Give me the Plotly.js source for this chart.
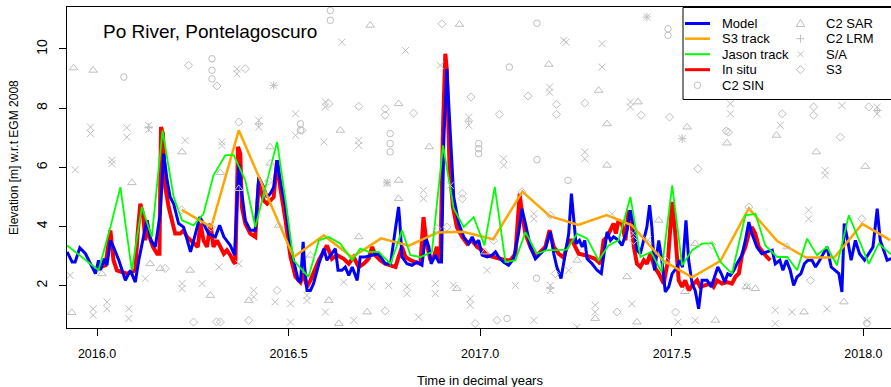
<!DOCTYPE html>
<html><head><meta charset="utf-8">
<script src="https://cdn.plot.ly/plotly-3.0.1.min.js"></script>
<style>html,body{margin:0;padding:0;overflow:hidden;background:#fff;width:891px;height:387px}#chart{width:900px;height:387px}</style>
</head><body><div id="chart"></div><script>
// ---------- data ----------
const modelX = [2015.922,2015.935,2015.943,2015.955,2015.970,2015.983,2015.996,2016.004,2016.009,2016.019,2016.026,2016.035,2016.043,2016.057,2016.074,2016.087,2016.100,2016.109,2016.123,2016.130,2016.141,2016.152,2016.165,2016.174,2016.183,2016.191,2016.200,2016.213,2016.226,2016.244,2016.257,2016.268,2016.278,2016.291,2016.309,2016.320,2016.331,2016.348,2016.359,2016.365,2016.370,2016.378,2016.387,2016.400,2016.413,2016.422,2016.435,2016.444,2016.452,2016.461,2016.470,2016.478,2016.492,2016.505,2016.513,2016.525,2016.531,2016.538,2016.542,2016.548,2016.557,2016.565,2016.579,2016.592,2016.600,2016.613,2016.622,2016.629,2016.639,2016.648,2016.657,2016.666,2016.679,2016.687,2016.700,2016.718,2016.735,2016.752,2016.766,2016.777,2016.787,2016.790,2016.796,2016.809,2016.822,2016.835,2016.848,2016.857,2016.866,2016.872,2016.883,2016.892,2016.899,2016.905,2016.913,2016.922,2016.931,2016.944,2016.957,2016.970,2016.979,2016.987,2016.996,2017.005,2017.018,2017.031,2017.040,2017.048,2017.061,2017.074,2017.087,2017.100,2017.109,2017.118,2017.131,2017.144,2017.157,2017.170,2017.183,2017.192,2017.200,2017.211,2017.221,2017.231,2017.238,2017.244,2017.250,2017.259,2017.266,2017.273,2017.279,2017.292,2017.305,2017.316,2017.322,2017.331,2017.340,2017.348,2017.361,2017.370,2017.383,2017.392,2017.401,2017.409,2017.418,2017.427,2017.435,2017.442,2017.448,2017.455,2017.466,2017.474,2017.483,2017.492,2017.501,2017.514,2017.520,2017.528,2017.537,2017.544,2017.553,2017.561,2017.570,2017.579,2017.592,2017.603,2017.612,2017.620,2017.629,2017.638,2017.646,2017.653,2017.662,2017.670,2017.683,2017.692,2017.701,2017.709,2017.722,2017.735,2017.748,2017.762,2017.770,2017.782,2017.790,2017.799,2017.809,2017.818,2017.827,2017.837,2017.846,2017.855,2017.866,2017.875,2017.886,2017.896,2017.905,2017.916,2017.927,2017.936,2017.944,2017.950,2017.959,2017.968,2017.979,2017.990,2018.003,2018.014,2018.025,2018.036,2018.044,2018.053,2018.062,2018.072,2018.080];
const modelY = [3.14,2.80,2.80,3.28,3.08,2.74,2.41,2.86,2.52,2.91,2.69,3.53,3.31,2.86,2.18,2.52,2.12,2.86,3.76,4.21,3.53,3.31,4.43,6.46,5.56,4.99,4.77,4.10,3.98,3.14,3.76,4.32,4.10,3.76,3.65,4.04,3.65,3.36,3.03,4.66,6.12,5.11,4.21,3.87,3.87,5.67,5.33,4.99,5.11,5.33,6.24,5.56,4.66,3.31,2.86,2.18,2.12,3.48,2.63,1.84,1.84,2.07,2.74,3.25,2.86,3.08,3.25,2.52,2.52,2.63,2.35,2.63,2.18,2.97,2.97,3.03,3.08,2.74,2.74,3.76,4.66,4.21,2.97,2.74,2.69,2.80,2.69,3.65,3.31,2.74,3.03,2.80,2.80,6.91,9.33,7.14,4.99,4.10,3.65,3.42,3.65,3.42,3.53,3.03,2.97,3.03,3.14,2.97,2.80,2.69,2.91,3.76,4.60,4.10,3.31,2.91,3.08,3.25,3.82,3.08,2.63,2.24,3.00,3.76,5.11,4.21,3.42,3.53,3.31,3.53,2.91,2.74,2.52,2.41,2.97,3.82,3.53,3.65,3.53,3.36,3.87,4.55,3.98,3.20,3.08,3.53,3.98,4.72,3.98,2.52,3.53,2.86,1.79,1.96,2.41,2.63,2.86,2.63,4.21,2.86,2.07,1.84,1.22,2.18,2.18,1.96,2.30,2.63,2.41,2.12,2.40,2.35,2.52,2.74,3.03,3.53,4.15,3.76,3.31,3.08,3.14,3.20,2.74,2.86,2.52,2.86,2.52,2.01,2.30,2.41,2.74,2.86,2.86,2.63,2.86,3.08,3.31,2.63,2.52,2.41,1.79,4.10,3.53,2.86,3.53,3.08,2.86,3.08,3.31,4.60,3.53,3.20,2.86,2.91,2.90];

const insituX = [2016.009,2016.022,2016.035,2016.043,2016.052,2016.065,2016.078,2016.091,2016.100,2016.106,2016.113,2016.120,2016.126,2016.130,2016.137,2016.146,2016.157,2016.163,2016.167,2016.172,2016.178,2016.187,2016.196,2016.204,2016.217,2016.226,2016.235,2016.244,2016.252,2016.263,2016.270,2016.278,2016.287,2016.296,2016.304,2016.313,2016.322,2016.331,2016.339,2016.348,2016.357,2016.361,2016.368,2016.374,2016.378,2016.387,2016.400,2016.413,2016.422,2016.435,2016.444,2016.452,2016.461,2016.470,2016.478,2016.492,2016.505,2016.518,2016.531,2016.539,2016.548,2016.557,2016.565,2016.579,2016.600,2016.613,2016.626,2016.644,2016.657,2016.670,2016.683,2016.696,2016.709,2016.718,2016.726,2016.739,2016.752,2016.766,2016.779,2016.787,2016.796,2016.805,2016.818,2016.831,2016.844,2016.852,2016.859,2016.870,2016.879,2016.887,2016.896,2016.903,2016.909,2016.913,2016.920,2016.929,2016.939,2016.953,2016.966,2016.979,2016.992,2017.005,2017.018,2017.035,2017.053,2017.066,2017.079,2017.092,2017.103,2017.109,2017.118,2017.131,2017.144,2017.157,2017.170,2017.181,2017.192,2017.205,2017.218,2017.231,2017.240,2017.248,2017.257,2017.274,2017.287,2017.300,2017.314,2017.322,2017.331,2017.340,2017.348,2017.354,2017.361,2017.370,2017.379,2017.387,2017.394,2017.401,2017.409,2017.418,2017.427,2017.435,2017.444,2017.455,2017.466,2017.479,2017.490,2017.501,2017.509,2017.518,2017.527,2017.535,2017.544,2017.557,2017.566,2017.574,2017.588,2017.601,2017.609,2017.618,2017.631,2017.644,2017.657,2017.666,2017.675,2017.683,2017.692,2017.701,2017.709,2017.718,2017.727,2017.740,2017.748,2017.757];
const insituY = [2.63,2.69,3.87,2.86,2.52,2.46,2.41,2.46,2.52,3.76,4.77,4.43,3.53,4.21,3.65,3.31,3.08,3.08,7.36,7.14,5.33,4.66,4.21,3.76,3.76,3.87,3.65,3.53,3.42,3.31,4.10,3.53,3.31,4.10,3.31,3.53,3.31,3.08,3.20,3.03,2.80,2.74,6.69,6.46,4.66,4.10,3.76,3.65,5.45,4.88,4.77,4.88,4.99,6.24,5.33,4.21,2.97,2.30,2.12,2.41,1.96,2.18,2.41,2.86,3.36,2.91,3.03,2.91,2.74,2.97,2.63,2.74,2.91,3.31,3.03,2.86,2.74,2.69,2.63,2.97,3.31,2.97,2.86,2.80,2.74,4.32,3.53,2.86,2.97,3.31,2.86,7.36,9.84,9.28,6.01,4.66,3.98,3.65,3.42,3.53,3.31,3.20,3.03,2.97,2.91,2.86,2.86,3.08,5.11,4.43,3.76,3.31,2.97,3.14,3.31,3.87,3.31,3.08,2.95,3.53,3.53,3.31,3.08,3.03,2.97,2.91,2.74,3.53,3.65,3.87,4.10,3.76,4.21,4.10,3.53,4.55,4.21,3.31,2.74,2.63,2.86,2.74,3.08,2.63,2.41,2.07,2.86,4.83,3.76,2.18,1.96,2.18,1.84,2.07,2.18,1.96,2.01,2.07,1.96,2.18,2.07,2.12,2.07,2.30,2.41,3.03,3.31,3.76,3.98,3.76,3.31,3.08,2.97,2.86];

const s3TrackX = [2016.221,2016.298,2016.370,2016.513,2016.592,2016.666,2016.741,2016.814,2016.889,2016.955,2017.034,2017.110,2017.182,2017.256,2017.330,2017.396,2017.478,2017.553,2017.627,2017.701,2017.775,2017.850,2017.924,2017.997,2018.070];
const s3TrackY = [4.56,3.98,7.25,2.97,3.70,2.96,3.60,3.35,3.80,3.82,3.57,5.18,4.35,4.05,4.39,4.04,2.84,2.28,2.84,4.61,3.51,2.95,2.95,4.09,3.54];

const jasonX = [2015.922,2016.004,2016.035,2016.061,2016.091,2016.117,2016.143,2016.171,2016.200,2016.222,2016.252,2016.278,2016.304,2016.335,2016.357,2016.387,2016.413,2016.444,2016.470,2016.492,2016.513,2016.552,2016.579,2016.605,2016.635,2016.666,2016.687,2016.709,2016.735,2016.766,2016.796,2016.818,2016.844,2016.874,2016.903,2016.931,2016.957,2016.983,2017.011,2017.038,2017.066,2017.092,2017.118,2017.148,2017.174,2017.200,2017.226,2017.253,2017.279,2017.309,2017.335,2017.361,2017.392,2017.418,2017.446,2017.473,2017.501,2017.527,2017.553,2017.579,2017.605,2017.627,2017.657,2017.692,2017.718,2017.744,2017.775,2017.801,2017.827,2017.853,2017.879,2017.905,2017.931,2017.962,2017.988,2018.014,2018.040,2018.070,2018.080];
const jasonY = [3.36,2.52,3.98,5.33,2.52,4.66,3.65,7.25,5.00,4.21,4.04,4.43,5.73,6.41,6.41,5.56,3.98,5.56,6.86,4.88,2.86,2.30,3.53,3.65,3.42,2.86,3.25,3.14,3.14,2.74,3.87,3.03,2.97,3.14,6.74,4.60,3.98,4.32,3.36,5.34,2.80,2.86,3.81,3.08,3.20,3.20,3.22,3.76,3.59,2.86,3.36,3.53,5.00,2.97,3.14,2.46,5.39,2.69,3.20,3.42,3.44,2.80,2.41,4.38,4.43,3.36,2.97,2.97,2.52,3.59,3.03,3.31,2.69,4.38,3.53,2.74,3.42,3.08,3.05];

const c2sinX = [2016.070,2016.300,2016.300,2016.300,2016.609,2016.609,2016.531,2016.531,2016.765,2016.765,2016.765,2017.148,2017.076,2016.996,2016.996,2016.996,2017.148,2017.070,2017.490,2017.490,2017.229,2017.147,2018.009];
const c2sinY = [9.05,9.67,9.28,8.99,11.30,10.97,7.47,7.25,7.14,6.80,6.52,10.87,9.39,6.80,6.63,6.46,6.26,0.89,10.68,10.46,5.56,2.25,0.73];

const c2sarX = [2015.939,2015.990,2016.091,2016.222,2016.322,2016.139,2016.165,2016.243,2016.296,2015.934,2016.013,2016.713,2016.635,2016.787,2016.787,2016.787,2016.452,2016.474,2016.683,2016.557,2016.396,2016.605,2016.705,2016.631,2016.370,2016.946,2017.179,2016.867,2016.939,2017.013,2017.309,2017.412,2017.331,2017.540,2017.644,2017.331,2017.253,2017.383,2017.466,2017.561,2017.300,2017.614,2017.409,2017.773,2017.877,2018.005,2017.718,2017.949,2017.845,2017.801,2017.534,2017.695,2016.452];
const c2sarY = [9.36,9.28,5.48,6.52,5.82,2.74,2.58,2.52,1.67,1.09,2.40,10.80,7.25,8.15,5.56,4.94,6.69,4.04,3.65,3.03,1.50,1.50,1.11,0.72,5.28,10.83,9.48,6.69,1.90,3.14,8.60,8.21,7.47,7.36,6.82,6.07,2.86,2.30,4.21,3.42,0.89,0.83,0.77,7.08,6.52,6.03,1.90,1.45,1.11,3.31,1.80,1.97,6.14];

const c2lrmX = [2016.135,2016.461,2016.757,2016.970,2017.435,2017.527,2018.036,2016.422,2017.183];
const c2lrmY = [7.35,8.77,5.48,7.56,11.08,6.97,7.92,7.47,1.92];

const saX = [2015.983,2015.983,2016.078,2016.078,2016.135,2016.135,2016.039,2016.039,2015.943,2016.230,2016.326,2016.326,2016.126,2016.222,2016.222,2016.274,2016.318,2015.930,2016.026,2016.026,2015.990,2015.990,2016.083,2016.083,
2016.639,2016.365,2016.365,2016.461,2016.596,2016.596,2016.518,2016.422,2016.422,2016.518,2016.592,2016.683,2016.683,2016.757,2016.757,2016.370,2016.409,2016.409,2016.465,2016.505,2016.548,2016.548,2016.644,2016.761,2016.596,2016.505,2016.670,2016.717,
2016.805,2016.896,2017.218,2017.181,2017.181,2016.970,2016.970,2016.852,2016.852,2017.061,2017.061,2017.140,2017.140,2016.809,2016.809,2016.883,2016.883,2016.974,2016.974,2017.018,2017.092,2017.183,2017.183,2017.140,2016.839,2016.922,2016.930,
2017.224,2017.318,2017.318,2017.435,2017.392,2017.392,2017.273,2017.273,2017.527,2017.344,2017.438,2017.231,2017.253,2017.300,2017.300,2017.396,2017.516,2017.561,2017.653,2017.653,2017.399,
2017.783,2017.900,2017.900,2017.857,2017.857,2018.036,2018.036,2017.944,2017.696,2017.770,2017.814,2017.905,2018.010,2017.770];
const saY = [7.36,7.14,7.34,7.02,7.42,7.27,6.24,6.12,5.92,6.91,6.86,6.74,2.24,2.07,1.90,2.07,2.63,2.35,1.45,1.22,1.22,1.00,1.22,0.89,
10.23,9.33,9.16,8.77,8.21,8.04,7.81,7.59,7.36,7.08,6.86,6.91,6.74,5.50,5.45,2.74,1.84,1.62,1.45,1.39,1.67,1.50,2.12,2.01,1.11,0.77,0.83,1.97,
9.95,9.45,10.29,8.71,8.54,7.70,7.42,5.22,4.94,6.29,6.07,4.43,4.26,1.96,1.73,2.07,1.73,1.56,1.34,2.52,2.01,2.01,1.84,0.83,0.94,5.39,2.02,
10.23,10.18,9.39,11.08,8.21,8.04,6.52,6.29,6.97,4.43,3.55,2.52,0.60,1.34,1.11,1.39,0.77,0.83,8.15,7.81,3.77,
7.42,5.90,5.73,4.55,4.26,8.04,7.81,8.09,1.96,1.17,1.11,1.22,0.83,0.72];

const s3ptX = [2016.239,2016.313,2016.178,2016.252,2016.322,2016.221,2016.298,2016.312,
2016.387,2016.370,2016.605,2016.683,2016.752,2016.752,2016.535,2016.470,2016.396,2016.752,2016.448,
2016.900,2016.826,2016.976,2017.050,2017.125,2017.199,2017.199,2016.953,2016.953,2016.913,2016.887,2017.035,2017.196,2016.987,2017.044,2017.109,2017.183,
2017.273,2017.420,2017.494,2017.642,2017.568,2017.357,2017.510,2017.400,2017.483,2017.604,
2017.870,2017.870,2017.788,2018.014,2017.940,2017.862,2017.648,2017.701,2017.996];
const s3ptY = [9.45,8.75,2.58,0.77,0.77,4.56,3.98,0.78,
9.33,7.53,8.15,8.06,7.98,7.76,7.25,1.84,0.83,1.15,5.54,
10.85,7.83,8.38,7.79,8.41,8.13,7.79,5.11,4.94,3.98,3.93,3.53,2.41,0.72,0.83,5.17,4.38,
8.17,7.76,7.70,7.23,5.95,1.11,1.11,3.53,2.86,3.38,
8.04,7.76,7.81,8.04,7.02,2.18,7.19,4.66,4.26];

const xTicks = [2016.0, 2016.5, 2017.0, 2017.5, 2018.0];
const xTickText = ['2016.0','2016.5','2017.0','2017.5','2018.0'];
const yTicks = [2, 4, 6, 8, 10];
const yTickText = ['2','4','6','8','10'];

const legendLines = [
  {name:'Model', color:'#0000FF', width:3},
  {name:'S3 track', color:'#FFA500', width:2.5},
  {name:'Jason track', color:'#00FF00', width:2},
  {name:'In situ', color:'#FF0000', width:3}
];
const legendSymbols = [
  {name:'C2 SIN', sym:'circle'},
  {name:'C2 SAR', sym:'triangle'},
  {name:'C2 LRM', sym:'plus'},
  {name:'S/A', sym:'x'},
  {name:'S3', sym:'diamond'}
];

// ---------- layout geometry ----------
const W = 900, H = 387;
const PL = 67, PR = 893, PT = 7, PB = 328;
const FONT = 'Liberation Sans, Arial, Helvetica, sans-serif';
const GREY = '#BEBEBE';
const fx = px => (px - PL) / (PR - PL);
const fy = py => 1 - (py - PT) / (PB - PT);

function mk(x, y, symbol, size) {
  return {x, y, type:'scatter', mode:'markers', hoverinfo:'skip',
    marker:{symbol, size, color:GREY, line:{color:GREY, width:1}}};
}
function ln(x, y, color, width) {
  return {x, y, type:'scatter', mode:'lines', hoverinfo:'skip', line:{color, width}};
}

const traces = [
  ln(insituX, insituY, '#FF0000', 4),
  ln(modelX, modelY, '#0000FF', 3),
  ln(s3TrackX, s3TrackY, '#FFA500', 2.5),
  ln(jasonX, jasonY, '#00FF00', 1.8),
  mk(c2sinX, c2sinY, 'circle-open', 6.5),
  mk(c2sarX, c2sarY, 'triangle-up-open', 7.5),
  mk(c2lrmX, c2lrmY, 'cross-thin-open', 6),
  mk(saX, saY, 'x-thin-open', 7),
  mk(s3ptX, s3ptY, 'diamond-open', 6.2)
];

// ---------- legend (drawn as shapes + annotations) ----------
const shapes = [];
const annotations = [];
shapes.push({type:'rect', xref:'paper', yref:'paper', x0:fx(683), x1:fx(910), y0:fy(99.5), y1:fy(7.5),
  line:{color:'#000', width:1}, fillcolor:'#fff', layer:'above'});
const rowY = [23.5, 38.7, 54.2, 69.7, 85.3];
legendLines.forEach((e, i) => {
  shapes.push({type:'line', xref:'paper', yref:'paper', x0:fx(685), x1:fx(710), y0:fy(rowY[i]), y1:fy(rowY[i]),
    line:{color:e.color, width:e.width}, layer:'above'});
  annotations.push({xref:'paper', yref:'paper', x:fx(720), y:fy(rowY[i]), xanchor:'left', yanchor:'middle',
    text:e.name, showarrow:false, font:{family:FONT, size:13, color:'#000'}});
});
function pth(pts, close) {
  return pts.map((p, i) => (i ? 'L' : 'M') + fx(p[0]).toFixed(5) + ',' + fy(p[1]).toFixed(5)).join(' ') + (close ? ' Z' : '');
}
function symShape(sym, cx, cy) {
  const line = {color:GREY, width:1};
  if (sym === 'circle') return {type:'circle', xref:'paper', yref:'paper', x0:fx(cx-3.3), x1:fx(cx+3.3), y0:fy(cy+3.3), y1:fy(cy-3.3), line, layer:'above'};
  let path;
  if (sym === 'triangle') path = pth([[cx-4.2,cy+3],[cx+4.2,cy+3],[cx,cy-4.2]], true);
  if (sym === 'plus') path = pth([[cx-4,cy],[cx+4,cy]]) + ' ' + pth([[cx,cy-4],[cx,cy+4]]);
  if (sym === 'x') path = pth([[cx-3,cy-3],[cx+3,cy+3]]) + ' ' + pth([[cx-3,cy+3],[cx+3,cy-3]]);
  if (sym === 'diamond') path = pth([[cx-4,cy],[cx,cy-4],[cx+4,cy],[cx,cy+4]], true);
  return {type:'path', xref:'paper', yref:'paper', path, line, layer:'above'};
}
legendSymbols.forEach((e, i) => {
  const col = i === 0 ? 0 : 1;
  const row = i === 0 ? 4 : i - 1;
  const cx = col === 0 ? 697.5 : 800.5;
  const tx = col === 0 ? 720 : 823.5;
  shapes.push(symShape(e.sym, cx, rowY[row]));
  annotations.push({xref:'paper', yref:'paper', x:fx(tx), y:fy(rowY[row]), xanchor:'left', yanchor:'middle',
    text:e.name, showarrow:false, font:{family:FONT, size:13, color:'#000'}});
});

// title and axis titles
annotations.push({xref:'paper', yref:'paper', x:fx(101), y:fy(31), xanchor:'left', yanchor:'middle',
  text:'Po River, Pontelagoscuro', showarrow:false, font:{family:FONT, size:19, color:'#000'}});
annotations.push({xref:'paper', yref:'paper', x:fx(480), y:fy(380), xanchor:'center', yanchor:'middle',
  text:'Time in decimal years', showarrow:false, font:{family:FONT, size:13, color:'#000'}});
annotations.push({xref:'paper', yref:'paper', x:fx(14), y:fy(158), xanchor:'center', yanchor:'middle', textangle:-90,
  text:'Elevation [m] w.r.t EGM 2008', showarrow:false, font:{family:FONT, size:12, color:'#000'}});

const axisCommon = {showline:true, linecolor:'#000', linewidth:1, mirror:true, showgrid:false, zeroline:false,
  ticks:'outside', ticklen:7, tickwidth:1, tickcolor:'#000', fixedrange:true};

const layout = {
  width:W, height:H,
  margin:{l:PL, r:W-PR, t:PT, b:H-PB, pad:0},
  paper_bgcolor:'#fff', plot_bgcolor:'#fff', showlegend:false,
  xaxis:Object.assign({}, axisCommon, {range:[2016 + (PL-97)/383.2, 2016 + (PR-97)/383.2], tickmode:'array', tickvals:xTicks, ticktext:xTickText, ticklabelstandoff:7, tickfont:{family:FONT, size:12.5, color:'#000'}}),
  yaxis:Object.assign({}, axisCommon, {range:[0.570, 11.419], tickmode:'array', tickvals:yTicks, ticktext:yTickText, tickangle:-90, ticklabelstandoff:6, tickfont:{family:FONT, size:14, color:'#000'}}),
  shapes, annotations
};

Plotly.newPlot('chart', traces, layout, {staticPlot:true, displayModeBar:false});
</script></body></html>
